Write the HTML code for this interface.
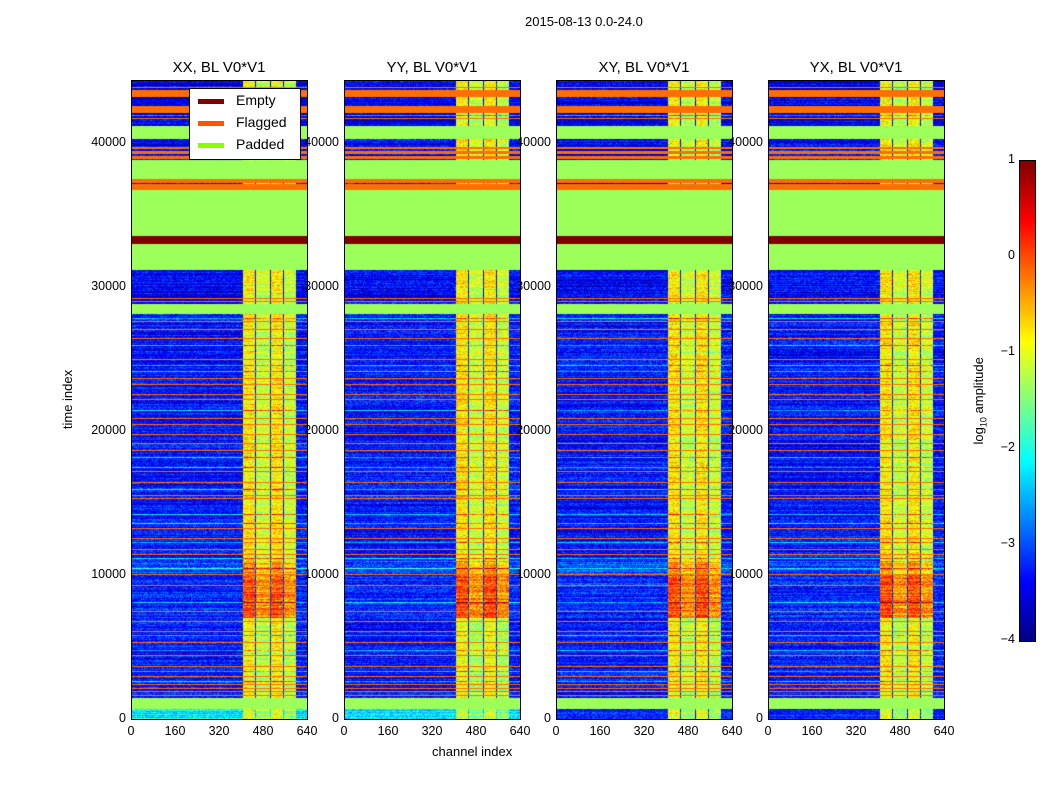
<!DOCTYPE html>
<html><head><meta charset="utf-8">
<style>
body{margin:0;width:1050px;height:800px;background:#fff;position:relative;overflow:hidden;font-family:"Liberation Sans","DejaVu Sans",sans-serif;color:#000}
.a{position:absolute;white-space:nowrap}
.panel{position:absolute;top:80px;width:177px;height:640px;border:1px solid #000;box-sizing:border-box}
canvas{position:absolute;left:0;top:0}
.t{font-size:15px}
.tk{font-size:12.5px}
</style></head>
<body>
<div class="a" style="left:525px;top:14px;font-size:13px">2015-08-13 0.0-24.0</div>
<div id="root"></div>
<div class="a" style="left:432px;top:744px;font-size:13px">channel index</div>
<div class="a" style="left:38px;top:392px;font-size:13px;transform:rotate(-90deg)">time index</div>
<canvas id="cb" width="15" height="480" style="left:1019px;top:160px;border:1px solid #000"></canvas>
<div class="a" style="left:936px;top:392px;font-size:13px;transform:rotate(-90deg)">log<sub style="font-size:9px">10</sub> amplitude</div>
<div id="cbt"></div>
<div class="a" style="left:189px;top:88px;width:112px;height:72px;border:1px solid #000;background:#fff;box-sizing:border-box;font-size:14px">
 <div style="position:absolute;left:8px;top:3px"><span style="display:inline-block;width:26px;height:5px;background:#800000;vertical-align:middle;margin-right:12px"></span>Empty</div>
 <div style="position:absolute;left:8px;top:25px"><span style="display:inline-block;width:26px;height:5px;background:#ff5500;vertical-align:middle;margin-right:12px"></span>Flagged</div>
 <div style="position:absolute;left:8px;top:47px"><span style="display:inline-block;width:26px;height:5px;background:#88ff00;vertical-align:middle;margin-right:12px"></span>Padded</div>
</div>
<script>
const panelTitles=["XX, BL V0*V1","YY, BL V0*V1","XY, BL V0*V1","YX, BL V0*V1"];
const panelLefts=[131,344,556,768];
const xTicks=[0,160,320,480,640];
const yTicks=[0,10000,20000,30000,40000];
const cbTicks=[1,0,-1,-2,-3,-4];
// time ranges
const paddedStart=[700,28200,31250,33600,37570,40350];
const paddedEnd=[1460,28900,33060,36800,38900,41250];
const emptyStart=[33060];
const emptyEnd=[33600];
const flagStart=[36800,37290,39000,39350,39700,42150,43260];
const flagEnd=[37220,37570,39150,39550,39800,42640,43750];
const flagRows=[1670,1940,2150,2430,2990,3680,4440,5350,6110,6810,7500,9310,10070,11460,11800,12570,13260,15350,15560,16460,17220,18700,19200,19800,20500,20900,22220,22570,23260,23680,25000,26460,27080,27640,29030,29240,41800,43950];
const liteRows=[1300,2600,3300,4800,5800,8100,10500,11200,12300,13600,14200,16000,17500,18200,21500,24200,24600,26000,27900,42000];
// amplitude segments (log10)
const segStart=[0,1460,7000,10000,11000,28900,38900,41250];
const segEnd=[700,7000,10000,11000,28200,31250,40350,44400];
const segBg=[-2.2,-3.3,-3.2,-3.0,-3.3,-3.4,-3.4,-3.5];
const segHi=[-1.0,-0.9,0.0,-0.3,-0.8,-0.8,-0.8,-0.9];
const hiChanStart=[406,455,508,556];
const hiChanEnd=[450,503,551,600];
const tMax=44400, cMax=640;
function jet(v){v=Math.max(0,Math.min(1,v));
 const r=Math.min(4*v-1.5,-4*v+4.5),g=Math.min(4*v-0.5,-4*v+3.5),b=Math.min(4*v+0.5,-4*v+2.5);
 return [255*Math.max(0,Math.min(1,r)),255*Math.max(0,Math.min(1,g)),255*Math.max(0,Math.min(1,b))];}
function norm(l){return (l+4)/5;}
function hash(a,b,c){let h=(a*374761393+b*668265263+c*2147483647)|0;h=(h^(h>>>13))*1274126177;return ((h^(h>>>16))>>>0)/4294967296;}
function inR(t,s,e){for(let i=0;i<s.length;i++)if(t>=s[i]&&t<e[i])return true;return false;}
const root=document.getElementById('root');
panelLefts.forEach((L,p)=>{
 const d=document.createElement('div');d.className='panel';d.style.left=L+'px';
 
 
 root.appendChild(d);
 const cv=document.createElement('canvas');cv.width=175;cv.height=638;d.appendChild(cv);
 const ctx=cv.getContext('2d');const img=ctx.createImageData(175,638);
 const rowH=tMax/638;
 for(let y=0;y<638;y++){
  const t0=tMax-(y+1)*rowH,t1=tMax-y*rowH,t=(t0+t1)/2;
  let mode=0;
  if(inR(t,emptyStart,emptyEnd))mode=3;
  else if(inR(t,paddedStart,paddedEnd))mode=1;
  else if(inR(t,flagStart,flagEnd)||flagRows.some(f=>f>=t0&&f<t1))mode=2;
  const lite=liteRows.some(f=>f>=t0&&f<t1);
  let si=-1;for(let i=0;i<segStart.length;i++)if(t>=segStart[i]&&t<segEnd[i])si=i;
  let bg=si>=0?segBg[si]:-3.4,hi=si>=0?segHi[si]:-1;
  if(si===0&&p>=2)bg=-3.2;
  const rowN=(hash(y,7,p)-0.5)*0.5;
  for(let x=0;x<175;x++){
   const c=(x+0.5)/175*cMax;let col;
   if(mode===3)col=[128,0,0];else if(mode===1)col=[157,255,90];else if(mode===2)col=[255,110,0];
   else{
    let hiOn=false;for(let k=0;k<hiChanStart.length;k++)if(c>=hiChanStart[k]&&c<hiChanEnd[k])hiOn=true;
    let l=hiOn?hi+(c<503&&c>=455||c>=556?-0.35:0):bg;
    if(lite)l+=0.9;
    l+=(hash(x,y,p)-0.5)*0.8+rowN;
    col=jet(norm(l));
   }
   const o=(y*175+x)*4;img.data[o]=col[0];img.data[o+1]=col[1];img.data[o+2]=col[2];img.data[o+3]=255;
  }
 }
 ctx.putImageData(img,0,0);
 const tt=document.createElement('div');tt.className='a t';tt.textContent=panelTitles[p];
 tt.style.left=(L+88-50)+'px';tt.style.width='100px';tt.style.textAlign='center';tt.style.top='59px';
 
 
 root.appendChild(tt);
 xTicks.forEach(v=>{const x=L+v/cMax*176;
  const lb=document.createElement('div');lb.className='a tk';lb.textContent=v;lb.style.left=(x-20)+'px';lb.style.width='40px';lb.style.textAlign='center';lb.style.top='724px';
  
  
  root.appendChild(lb);});
 yTicks.forEach(v=>{const y=80+639-v/tMax*639;
  const lb=document.createElement('div');lb.className='a tk';lb.textContent=v;lb.style.left=(L-55)+'px';lb.style.width='50px';lb.style.textAlign='right';lb.style.top=(y-8)+'px';
  
  
  root.appendChild(lb);});
});
const cb=document.getElementById('cb').getContext('2d');
for(let y=0;y<480;y++){const c=jet(1-y/480);cb.fillStyle='rgb('+c.map(Math.round).join(',')+')';cb.fillRect(0,y,15,1);}
const cbt=document.getElementById('cbt');
cbTicks.forEach(v=>{const y=160+(1-v)/5*480;
 const lb=document.createElement('div');lb.className='a tk';lb.textContent=v<0?'\u2212'+(-v):String(v);
 lb.style.left='975px';lb.style.width='40px';lb.style.textAlign='right';lb.style.top=(y-8)+'px';
 
 
 cbt.appendChild(lb);});
</script>
</body></html>
